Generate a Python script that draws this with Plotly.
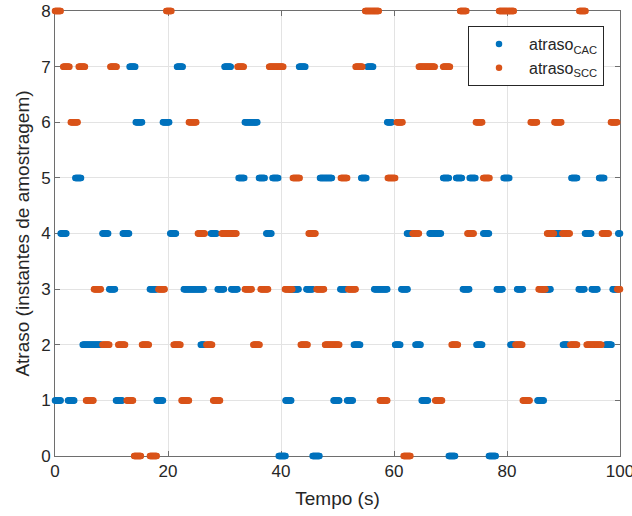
import numpy as np
import plotly.graph_objects as go

# Delay segments: (start time s, end time s, delay in samples)
cac_start = [13.2, 21.6, 30.0, 43.2, 55.3,
             14.3, 19.1, 33.6, 58.8,
             3.6, 32.5, 36.1, 38.5, 46.9, 54.2, 68.7, 71.0, 73.4, 79.4, 91.4, 96.3,
             1.0, 8.4, 12.0, 20.4, 27.6, 37.4, 62.3, 66.3, 75.8, 87.8, 93.8, 99.7,
             9.6, 16.8, 22.8, 28.8, 31.2, 41.5, 44.5, 50.5, 56.5, 61.3, 72.2, 78.2, 81.8, 86.2, 92.7, 95.0, 98.7,
             4.9, 25.8, 52.9, 60.2, 63.8, 74.6, 80.6, 89.9, 97.4,
             0.0, 2.3, 10.8, 18.0, 40.8, 49.3, 51.7, 64.9, 85.4,
             39.6, 45.6, 69.7, 76.8]
cac_end = [14.2, 22.6, 31.1, 44.3, 56.3,
           15.4, 20.2, 35.8, 59.6,
           4.6, 33.5, 37.1, 39.5, 49.0, 55.1, 69.7, 72.0, 74.4, 80.4, 92.4, 97.2,
           2.0, 9.4, 13.1, 21.4, 28.6, 38.3, 63.0, 68.3, 76.8, 89.4, 94.9, 100.0,
           10.6, 18.0, 26.3, 29.9, 32.3, 43.1, 45.6, 51.5, 58.8, 62.4, 73.3, 79.2, 82.8, 87.7, 93.7, 96.0, 99.5,
           8.2, 26.5, 54.0, 61.1, 64.7, 75.6, 81.3, 90.8, 98.5,
           1.06, 3.4, 11.9, 19.1, 41.8, 50.3, 52.7, 66.0, 86.5,
           40.8, 46.8, 70.8, 78.0]
cac_delay = [7] * 5 + [6] * 4 + [5] * 12 + [4] * 12 + [3] * 17 + [2] * 9 + [1] * 9 + [0] * 4

scc_start = [0.0, 19.7, 54.9, 71.7, 78.6, 92.8,
             1.45, 4.2, 9.8, 32.3, 37.9, 53.2, 64.4, 68.7,
             2.8, 23.7, 60.5, 74.5, 84.2, 88.4, 98.4,
             42.1, 50.6, 58.9, 75.8,
             25.3, 29.5, 44.9, 63.3, 73.0, 87.1, 89.8, 96.8,
             6.9, 18.3, 33.6, 36.4, 40.7, 46.3, 51.9, 85.6, 99.5,
             8.4, 11.2, 15.4, 21.0, 26.8, 35.1, 43.5, 47.8, 70.2, 81.5, 91.2, 94.1,
             5.5, 12.7, 22.4, 28.0, 57.5, 67.3, 82.8,
             14.0, 16.8, 61.7]
scc_end = [1.0, 20.6, 57.3, 72.8, 81.2, 93.9,
           2.6, 5.3, 10.9, 33.4, 40.4, 54.4, 67.2, 69.9,
           4.0, 25.0, 61.5, 75.6, 85.3, 89.6, 99.5,
           43.3, 51.7, 60.2, 76.9,
           26.5, 32.1, 46.1, 64.4, 74.1, 88.3, 91.1, 98.0,
           8.1, 19.4, 34.8, 37.7, 42.0, 47.6, 53.2, 86.8, 100.0,
           9.6, 12.4, 16.6, 22.2, 27.8, 36.2, 44.7, 50.3, 71.3, 82.7, 92.4, 96.7,
           6.8, 13.8, 23.7, 29.2, 58.8, 68.5, 84.0,
           15.2, 18.0, 62.9]
scc_delay = [8] * 6 + [7] * 8 + [6] * 7 + [5] * 4 + [4] * 8 + [3] * 9 + [2] * 12 + [1] * 7 + [0] * 3

x_ticks = [0, 20, 40, 60, 80, 100]
y_ticks = [0, 1, 2, 3, 4, 5, 6, 7, 8]

SAMPLE = 0.1  # sampling period of the logged delay


def expand(starts, ends, delays):
    t_all, d_all = [], []
    for s, e, d in zip(starts, ends, delays):
        t = np.arange(s, e + 1e-9, SAMPLE)
        t_all.append(t)
        d_all.append(np.full(t.shape, d))
    return np.concatenate(t_all), np.concatenate(d_all)


t_cac, d_cac = expand(cac_start, cac_end, cac_delay)
t_scc, d_scc = expand(scc_start, scc_end, scc_delay)

FONT = "Liberation Sans, Arial, Helvetica, sans-serif"

fig = go.Figure()
fig.add_trace(go.Scatter(x=t_cac, y=d_cac, mode="markers", name="atraso<sub>CAC</sub>",
                         marker=dict(color="#0072BD", size=6.5), cliponaxis=False))
fig.add_trace(go.Scatter(x=t_scc, y=d_scc, mode="markers", name="atraso<sub>SCC</sub>",
                         marker=dict(color="#D95319", size=6.5), cliponaxis=False))

axis_common = dict(showline=True, linecolor="#6e6e6e", linewidth=1, mirror="ticks",
                   ticks="inside", ticklen=5, tickcolor="#6e6e6e",
                   showgrid=True, gridcolor="#e3e3e3", gridwidth=1, zeroline=False,
                   tickfont=dict(family=FONT, size=17, color="#262626"),
                   layer="below traces", automargin=False, ticklabeloverflow="allow")

fig.update_layout(
    width=632, height=516,
    margin=dict(l=55, r=12, t=11, b=60),
    plot_bgcolor="white", paper_bgcolor="white",
    font=dict(family=FONT, color="#262626"),
    xaxis=dict(range=[0, 100], tickvals=x_ticks,
               title=dict(text="Tempo (s)", font=dict(family=FONT, size=19, color="#262626"), standoff=11),
               **axis_common),
    yaxis=dict(range=[0, 8], tickvals=y_ticks,
               title=dict(text="Atraso (instantes de amostragem)", font=dict(family=FONT, size=19, color="#262626"), standoff=6),
               **axis_common),
    legend=dict(x=0.9717, y=0.966, xanchor="right", yanchor="top",
                bgcolor="white", bordercolor="#262626", borderwidth=1,
                font=dict(family=FONT, size=16, color="#262626"),
                itemwidth=50, tracegroupgap=2),
    showlegend=True,
)

fig.write_html("out.html", config={"displayModeBar": False},
               post_script="document.body.style.margin='0px';")
